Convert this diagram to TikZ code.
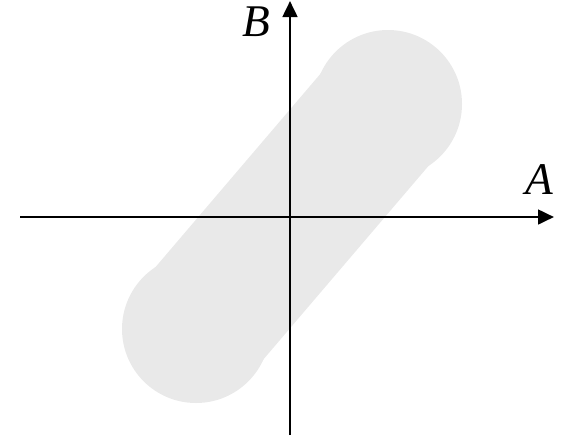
\documentclass[tikz,border=0pt]{standalone}
\usepackage{fontspec}
\setmainfont{Liberation Serif}
\usetikzlibrary{arrows.meta}
\definecolor{blobgray}{RGB}{233,233,233}
\tikzset{
  axis/.style={line width=2pt,-{Triangle[length=12pt,width=11pt]}},
  lbl/.style={font=\fontsize{34}{40}\selectfont\itshape, inner sep=0pt}
}
\begin{document}
\begin{tikzpicture}[x=0.75pt,y=-0.75pt]
\useasboundingbox (0,0) rectangle (577,440);
% grey capsule
\coordinate (t) at (388,104);
\coordinate (b) at (196,329);
\fill[blobgray] (t) circle (74);
\fill[blobgray] (b) circle (74);
\draw[blobgray, line width=106.5pt] (t) -- (b);
% axes
\coordinate (xl) at (20,217);
\coordinate (xr) at (554,217);
\coordinate (yb) at (290,435);
\coordinate (yt) at (290,1);
\draw[axis] (xl) -- (xr);
\draw[axis] (yb) -- (yt);
\node[lbl] (A) at (539,180) {A};
\node[lbl] (B) at (256,22) {B};
\end{tikzpicture}
\end{document}
